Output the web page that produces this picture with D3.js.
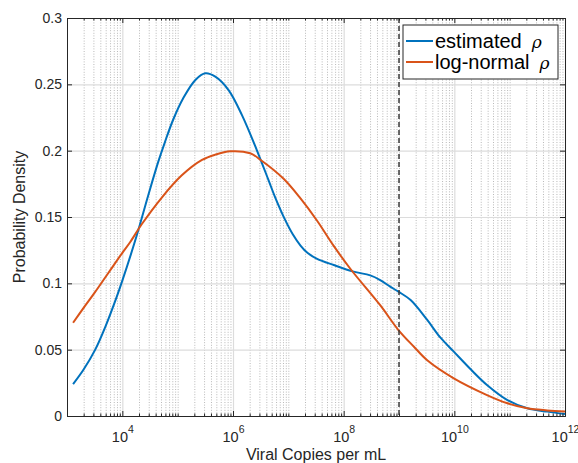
<!DOCTYPE html>
<html lang="en">
<head>
<meta charset="UTF-8">
<title>Viral Copies Density</title>
<script src="https://d3js.org/d3.v7.min.js"></script>
<style>
  body { margin: 0; background: #fff; }
  svg { display: block; font-family: "Liberation Sans", Arial, Helvetica, sans-serif; }
  .axis path, .axis line { stroke: #262626; }
  .axis text { fill: #262626; font-size: 14px; font-family: "Liberation Sans", Arial, sans-serif; }
  .grid path { stroke: none; }
</style>
</head>
<body>
<svg id="chart" width="578" height="463"></svg>
<script>
// x values are stored as log10(copies per mL)
const estLog = [3.11, 3.3, 3.51, 3.7, 3.9, 4.0, 4.26, 4.47, 4.65, 4.77, 4.92, 5.1, 5.32, 5.5, 5.68, 5.92, 6.16, 6.43, 6.64, 6.76, 6.94, 7.08, 7.22, 7.35, 7.52, 7.82, 8.18, 8.48, 8.66, 8.84, 8.99, 9.21, 9.51, 9.75, 9.99, 10.3, 10.59, 10.96, 11.32, 11.68, 12.0];
const estDensity = [0.024, 0.035, 0.05, 0.068, 0.09, 0.102, 0.136, 0.1666, 0.1917, 0.2065, 0.2235, 0.2395, 0.2533, 0.2583, 0.2558, 0.2457, 0.227, 0.2005, 0.178, 0.165, 0.148, 0.137, 0.1285, 0.1228, 0.1185, 0.1138, 0.1088, 0.106, 0.1025, 0.0975, 0.0937, 0.0874, 0.0724, 0.059, 0.0485, 0.035, 0.0234, 0.012, 0.0058, 0.0033, 0.0015];

const lnLog = [3.11, 3.3, 3.5, 3.75, 4.0, 4.14, 4.35, 4.71, 5.07, 5.44, 5.68, 5.95, 6.31, 6.5, 6.91, 7.22, 7.52, 7.82, 8.12, 8.66, 8.99, 9.27, 9.51, 9.99, 10.59, 10.96, 11.32, 11.68, 12.0];
const lnDensity = [0.0703, 0.0815, 0.093, 0.108, 0.123, 0.131, 0.1445, 0.1645, 0.1812, 0.193, 0.197, 0.1995, 0.198, 0.193, 0.179, 0.164, 0.1472, 0.1282, 0.111, 0.0835, 0.0648, 0.0522, 0.042, 0.0284, 0.0158, 0.0096, 0.0058, 0.0042, 0.0033];

const xTickExp = [4, 6, 8, 10, 12];
const yTicks = [0, 0.05, 0.1, 0.15, 0.2, 0.25, 0.3];
const yTickLabels = ["0", "0.05", "0.1", "0.15", "0.2", "0.25", "0.3"];
const thresholdCopies = 1e9;
const seriesNames = ["estimated", "log-normal"];
const seriesColors = ["#0072BD", "#D95319"];

const svg = d3.select("#chart");
const mLeft = 67, mRight = 565, mTop = 18, mBottom = 416;

const x = d3.scaleLog().domain([1e3, 1e12]).range([mLeft, mRight]);
const y = d3.scaleLinear().domain([0, 0.3]).range([mBottom, mTop]);

// minor positions: every integer multiple inside each decade
const majorX = xTickExp.map(e => Math.pow(10, e));
const minorX = [];
for (let k = 3; k < 12; k++) {
  for (let m = 1; m <= 9; m++) {
    const v = m * Math.pow(10, k);
    if (v > 1e3 && !majorX.includes(v)) minorX.push(v);
  }
}

// grid
svg.append("g").attr("class", "grid")
  .attr("transform", `translate(0,${mBottom})`)
  .call(d3.axisBottom(x).tickValues(minorX).tickSize(-(mBottom - mTop)).tickFormat(""))
  .selectAll("line").attr("stroke", "#b9b9b9").attr("stroke-dasharray", "1,1.6");

svg.append("g").attr("class", "grid")
  .attr("transform", `translate(0,${mBottom})`)
  .call(d3.axisBottom(x).tickValues(majorX).tickSize(-(mBottom - mTop)).tickFormat(""))
  .selectAll("line").attr("stroke", "#dcdcdc").attr("stroke-width", 1.2);

svg.append("g").attr("class", "grid")
  .attr("transform", `translate(${mLeft},0)`)
  .call(d3.axisLeft(y).tickValues(yTicks).tickSize(-(mRight - mLeft)).tickFormat(""))
  .selectAll("line").attr("stroke", "#dcdcdc").attr("stroke-width", 1.2);

// curves
const line = d3.line()
  .x(d => x(Math.pow(10, d[0])))
  .y(d => y(d[1]))
  .curve(d3.curveCatmullRom.alpha(0.5));

const series = [
  d3.zip(estLog, estDensity),
  d3.zip(lnLog, lnDensity)
];

series.forEach((s, i) => {
  svg.append("path")
    .datum(s)
    .attr("fill", "none")
    .attr("stroke", seriesColors[i])
    .attr("stroke-width", 2)
    .attr("stroke-linejoin", "round")
    .attr("d", line);
});

// threshold
svg.append("line")
  .attr("x1", x(thresholdCopies)).attr("x2", x(thresholdCopies))
  .attr("y1", y(0.3)).attr("y2", y(0))
  .attr("stroke", "#3a3a3a")
  .attr("stroke-width", 1.5)
  .attr("stroke-dasharray", "5,3");

// axes (ticks point inward, box on)
const xAxis = svg.append("g").attr("class", "axis")
  .attr("transform", `translate(0,${mBottom})`)
  .call(d3.axisBottom(x).tickValues(majorX).tickSize(-5).tickPadding(0).tickFormat(""));
svg.append("g").attr("class", "axis")
  .attr("transform", `translate(0,${mBottom})`)
  .call(d3.axisBottom(x).tickValues(minorX).tickSize(-2.5).tickFormat(""))
  .select(".domain").remove();
svg.append("g").attr("class", "axis")
  .attr("transform", `translate(0,${mTop})`)
  .call(d3.axisTop(x).tickValues(majorX).tickSize(-5).tickFormat(""));
svg.append("g").attr("class", "axis")
  .attr("transform", `translate(0,${mTop})`)
  .call(d3.axisTop(x).tickValues(minorX).tickSize(-2.5).tickFormat(""))
  .select(".domain").remove();

xAxis.selectAll(".tick text").each(function(d) {
  const t = d3.select(this)
    .attr("y", 26).attr("dy", null)
    .style("font-size", "14.5px");
  t.append("tspan").text("10");
  t.append("tspan").text(Math.round(Math.log10(d)))
    .attr("dy", -9).style("font-size", "10.5px");
});

svg.append("g").attr("class", "axis")
  .attr("transform", `translate(${mLeft},0)`)
  .call(d3.axisLeft(y).tickValues(yTicks).tickSize(-5).tickPadding(5)
    .tickFormat((d, i) => yTickLabels[i]));
svg.append("g").attr("class", "axis")
  .attr("transform", `translate(${mRight},0)`)
  .call(d3.axisRight(y).tickValues(yTicks).tickSize(-5).tickFormat(""));

svg.selectAll(".axis .domain").attr("stroke-width", 1);

// axis titles
svg.append("text")
  .attr("x", (mLeft + mRight) / 2).attr("y", 460)
  .attr("text-anchor", "middle")
  .attr("fill", "#262626")
  .style("font-size", "16px")
  .text("Viral Copies per mL");

svg.append("text")
  .attr("transform", `translate(25,${(mTop + mBottom) / 2}) rotate(-90)`)
  .attr("text-anchor", "middle")
  .attr("fill", "#262626")
  .style("font-size", "16px")
  .text("Probability Density");

// legend
const legend = svg.append("g");
legend.append("rect")
  .attr("x", 403).attr("y", 25).attr("width", 155).attr("height", 54)
  .attr("fill", "#fff").attr("stroke", "#262626").attr("stroke-width", 1);

seriesNames.forEach((name, i) => {
  const ly = 41 + i * 21;
  legend.append("line")
    .attr("x1", 406).attr("x2", 433).attr("y1", ly).attr("y2", ly)
    .attr("stroke", seriesColors[i]).attr("stroke-width", 2);
  const t = legend.append("text")
    .attr("x", 435).attr("y", ly + 7)
    .attr("fill", "#000")
    .style("font-size", "20px")
    .text(name);
  t.append("tspan")
    .attr("dx", 10)
    .style("font-family", "'DejaVu Serif', 'Liberation Serif', serif")
    .style("font-style", "italic")
    .style("font-size", "17px")
    .text("ρ");
});
</script>
</body>
</html>
